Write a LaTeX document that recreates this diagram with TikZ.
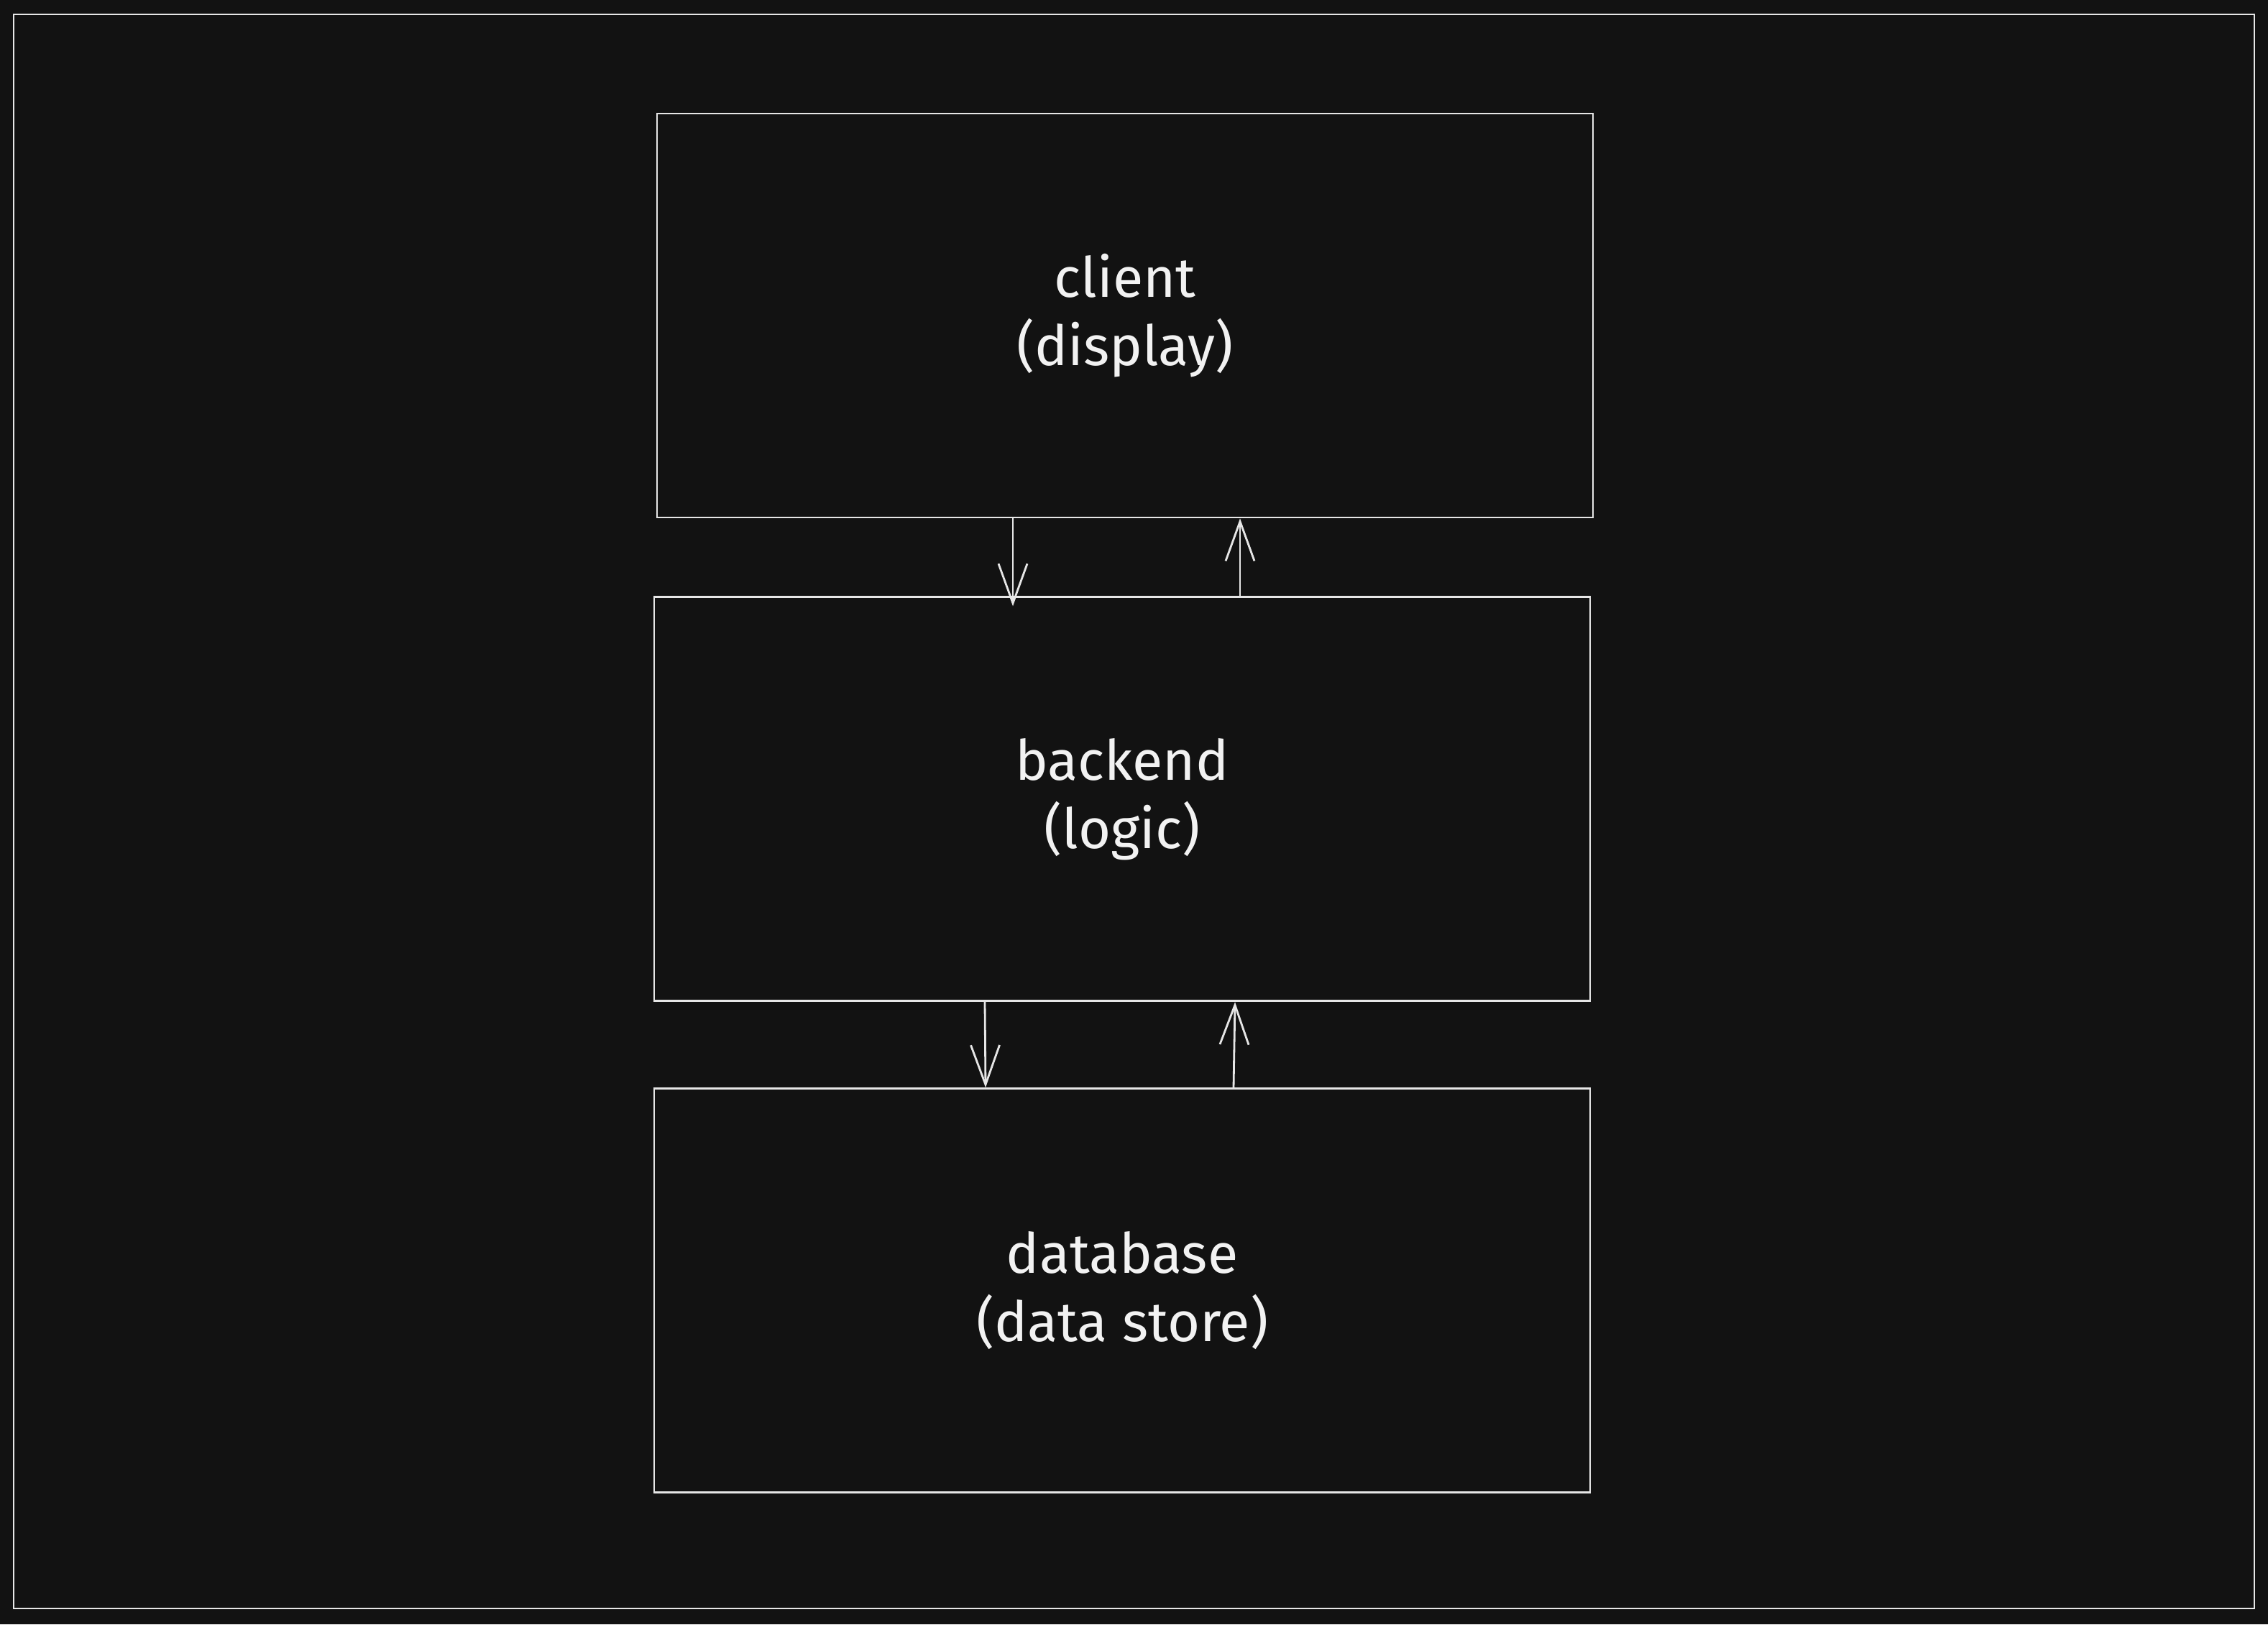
\documentclass[tikz,border=0pt]{standalone}
\usepackage{fontspec}
\setmainfont{Fira Sans}
\usetikzlibrary{arrows.meta,positioning}
\definecolor{bg}{HTML}{121212}
\definecolor{ink}{HTML}{E6E6E6}
\definecolor{label}{HTML}{F2F2F2}

\begin{document}
\begin{tikzpicture}[>={Straight Barb[length=5.5mm,width=4mm]},color=ink,line width=0.8pt,
	layer/.style={draw=ink,rectangle,minimum width=13.02cm,minimum height=5.62cm,align=center,text=label,font=\fontsize{22}{27}\selectfont}]
	\useasboundingbox[fill=bg] (0,0) rectangle (31.55,-22.60);
	\draw (0.19,-0.20) rectangle (31.36,-22.38);

	\node[layer]						(client)	at (15.65,-4.39)			{client\\(display)};
	\node[layer]						(backend)	[below=1.08cm of client,xshift=-0.04cm]	{backend\\(logic)};
	\node[layer]						(database)	[below=1.19cm of backend]	{database\\(data store)};

	\path[->]
		([xshift=-1.56cm]client.south)		edge	([xshift=-1.52cm,yshift=-1.4mm]backend.north)
		([xshift=1.64cm]backend.north)		edge	([xshift=1.60cm]client.south)
		([xshift=-1.91cm]backend.south)		edge	([xshift=-1.90cm]database.north)
		([xshift=1.55cm]database.north)		edge	([xshift=1.57cm]backend.south)
	;
\end{tikzpicture}
\end{document}
